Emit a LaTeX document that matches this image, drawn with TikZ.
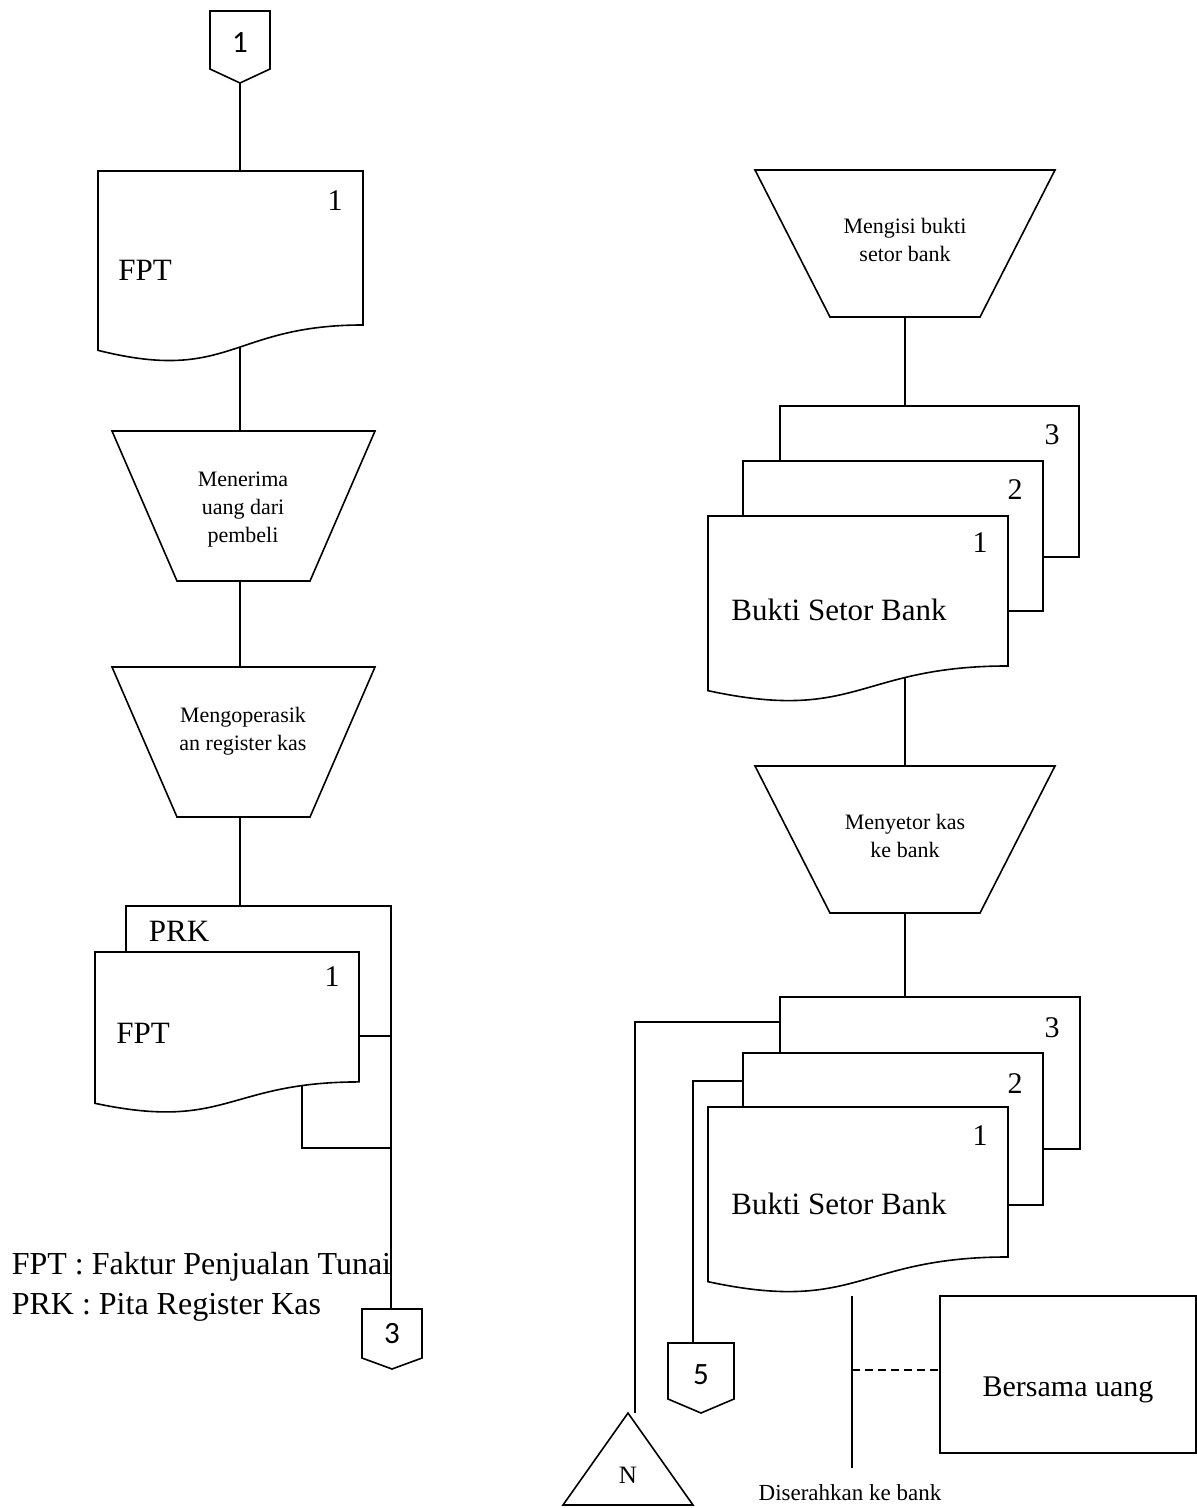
\documentclass[tikz,border=0pt]{standalone}
\usepackage{fontspec}
\setmainfont{Liberation Serif}
\newfontfamily\connfont{Carlito}

% document symbol with a wavy bottom: x, y (top left), width, height
\newcommand\docshape[4]{%
  \pgfmathsetmacro\dxr{#1+#3}\pgfmathsetmacro\dxm{#1+0.5*#3}%
  \pgfmathsetmacro\dyr{#2+0.802*#4}\pgfmathsetmacro\dyc{#2+1.107*#4}%
  \pgfmathsetmacro\dyl{#2+0.934*#4}%
  \draw[shapebox] (#1,#2) -- (\dxr,#2) -- (\dxr,\dyr)
    .. controls (\dxm,\dyr) and (\dxm,\dyc) .. (#1,\dyl) -- cycle;}

\begin{document}
\begin{tikzpicture}[x=1pt,y=-1pt,line width=1.6pt,
    shapebox/.style={draw,fill=white},
    bigtext/.style={font=\fontsize{31}{36}\selectfont,inner sep=0pt},
    smalltext/.style={font=\fontsize{22}{28}\selectfont,align=center,inner sep=0pt},
    numtext/.style={font=\fontsize{30}{36}\selectfont,inner sep=0pt},
    conntext/.style={font=\connfont\fontsize{31}{36}\selectfont,inner sep=0pt}]
	\useasboundingbox (0,0) rectangle (1197,1508);

	% left column points
	\coordinate (con1-s) at (240,83);
	\coordinate (fptA-n) at (240,171);
	\coordinate (fptA-c) at (240,300);
	\coordinate (terima-n) at (240,431);
	\coordinate (terima-s) at (240,581);
	\coordinate (operasi-n) at (240,667);
	\coordinate (operasi-s) at (240,817);
	\coordinate (prk-n) at (240,906);
	\coordinate (prk-ne) at (391,906);
	\coordinate (con3-n) at (391,1309);
	\coordinate (fptB-c) at (302,1050);
	\coordinate (fptB-j) at (391,1148);

	% right column points
	\coordinate (isi-s) at (905,317);
	\coordinate (bsbA-n) at (905,406);
	\coordinate (bsbA-c) at (905,600);
	\coordinate (setor-n) at (905,766);
	\coordinate (setor-s) at (905,913);
	\coordinate (bsbB-n) at (905,997);
	\coordinate (bsbB-w3) at (780,1022);
	\coordinate (bsbB-w2) at (743,1081);
	\coordinate (arsip-n) at (635,1413);
	\coordinate (con5-n) at (693,1343);
	\coordinate (bank-n) at (852,1296);
	\coordinate (bank-s) at (852,1468);
	\coordinate (bank-m) at (852,1370);
	\coordinate (uang-w) at (940,1370);

	% flow lines
	\draw (con1-s) -- (fptA-n);
	\draw (fptA-c) -- (terima-n);
	\draw (terima-s) -- (operasi-n);
	\draw (operasi-s) -- (prk-n);
	\draw (prk-ne) -- (con3-n);
	\draw (fptB-c) |- (fptB-j);
	\draw (isi-s) -- (bsbA-n);
	\draw (bsbA-c) -- (setor-n);
	\draw (setor-s) -- (bsbB-n);
	\draw (bsbB-w3) -| (arsip-n);
	\draw (bsbB-w2) -| (con5-n);
	\draw (bank-n) -- (bank-s);
	\draw[dashed,dash pattern=on 8pt off 5pt] (bank-m) -- (uang-w);

	% left column shapes
	\draw[shapebox] (210,11) -- (270,11) -- (270,69) -- (con1-s) -- (210,69) -- cycle;
	\docshape{98}{171}{265}{192}
	\draw[shapebox] (112,431) -- (375,431) -- (310,581) -- (177,581) -- cycle;
	\draw[shapebox] (112,667) -- (375,667) -- (310,817) -- (177,817) -- cycle;
	\draw[shapebox] (126,1036) -- (126,906) -- (391,906) -- (391,1036) -- cycle;
	\docshape{95}{952}{264}{162}
	\draw[shapebox] (362,1309) -- (422,1309) -- (422,1358) -- (392,1369) -- (362,1358) -- cycle;

	% right column shapes
	\draw[shapebox] (755,170) -- (1055,170) -- (980,317) -- (830,317) -- cycle;
	\draw[shapebox] (780,406) rectangle (1079,557);
	\draw[shapebox] (743,461) rectangle (1043,611);
	\docshape{708}{516}{300}{187}
	\draw[shapebox] (755,766) -- (1055,766) -- (980,913) -- (830,913) -- cycle;
	\draw[shapebox] (780,997) rectangle (1080,1149);
	\draw[shapebox] (743,1053) rectangle (1043,1205);
	\docshape{708}{1107}{300}{187}
	\draw[shapebox] (668,1343) -- (734,1343) -- (734,1399) -- (701,1413) -- (668,1399) -- cycle;
	\draw[shapebox] (arsip-n) ++(-7,0) -- (693,1505) -- (563,1505) -- cycle;
	\draw[shapebox] (940,1296) rectangle (1196,1453);

	% texts
	\node[conntext] (con1) at (240,43) {1};
	\node[numtext] (fptA-no) at (335,201) {1};
	\node[bigtext] (fptA) at (145,270) {FPT};
	\node[smalltext] (terima) at (243,510) {Menerima\\uang dari\\pembeli};
	\node[smalltext] (operasi) at (243,731) {Mengoperasik\\an register kas};
	\node[bigtext] (prk) at (179,931) {PRK};
	\node[numtext] (fptB-no) at (332,977) {1};
	\node[bigtext] (fptB) at (143,1033) {FPT};
	\node[conntext] (con3) at (392,1334) {3};
	\node[bigtext,anchor=west,align=left,font=\fontsize{32}{40}\selectfont] (ket) at (11,1287)
		{FPT : Faktur Penjualan Tunai\\PRK : Pita Register Kas};

	\node[smalltext] (isi) at (905,240) {Mengisi bukti\\setor bank};
	\node[numtext] (bsbA-3) at (1052,435) {3};
	\node[numtext] (bsbA-2) at (1015,490) {2};
	\node[numtext] (bsbA-1) at (980,543) {1};
	\node[bigtext] (bsbA) at (839,610) {Bukti Setor Bank};
	\node[smalltext] (setor) at (905,836) {Menyetor kas\\ke bank};
	\node[numtext] (bsbB-3) at (1052,1028) {3};
	\node[numtext] (bsbB-2) at (1015,1084) {2};
	\node[numtext] (bsbB-1) at (980,1136) {1};
	\node[bigtext] (bsbB) at (839,1204) {Bukti Setor Bank};
	\node[conntext] (con5) at (701,1375) {5};
	\node[smalltext,font=\fontsize{25}{30}\selectfont] (arsip) at (628,1475) {N};
	\node[bigtext,font=\fontsize{30}{36}\selectfont] (uang) at (1068,1390) {Bersama uang};
	\node[smalltext,font=\fontsize{23}{28}\selectfont] (serah) at (850,1493) {Diserahkan ke bank};
\end{tikzpicture}
\end{document}
